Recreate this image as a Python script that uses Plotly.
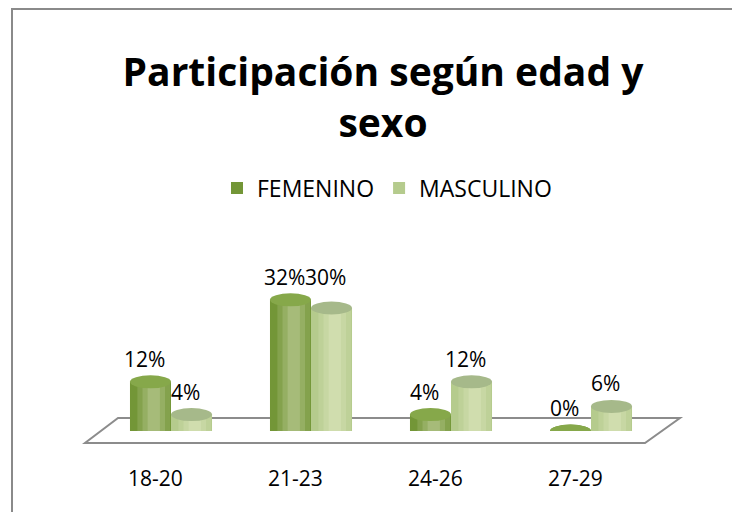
import plotly.graph_objects as go

categories = ["18-20", "21-23", "24-26", "27-29"]
femenino = [12, 32, 4, 0]
masculino = [4, 30, 12, 6]
series_names = ["FEMENINO", "MASCULINO"]

W, H = 740, 512
OFF = 8  # page body margin in the screenshot
ML, MR, MT, MB = 93, 87, 259, 89
PW, PH = W - ML - MR, H - MT - MB

def px(x):
    return (x - OFF - ML) / PW

def py(y):
    return (H - MB - (y - OFF)) / PH

FONT = "'Open Sans', Lato, sans-serif"
col_f, col_m = "#739637", "#B5CB8D"
top_f, top_m = "#86A84A", "#A6B98A"
bw = 0.293

fig = go.Figure()
for name, vals, col, off in [(series_names[0], femenino, col_f, -bw),
                             (series_names[1], masculino, col_m, 0)]:
    fig.add_trace(go.Bar(x=categories, y=vals, name=name, width=bw, offset=off,
                         marker=dict(color=col, line=dict(width=0))))
    # cylinder shading (stacked translucent bands)
    for frac, a in [(0.8, 0.12), (0.55, 0.14), (0.3, 0.16)]:
        fig.add_trace(go.Bar(x=categories, y=vals, width=bw * frac,
                             offset=off + bw * 0.58 - bw * frac / 2,
                             marker=dict(color=f"rgba(255,255,235,{a})", line=dict(width=0)),
                             showlegend=False, hoverinfo="skip"))

# cylinder ends (computed from data)
for vals, col, topc, off in [(femenino, col_f, top_f, -bw / 2), (masculino, col_m, top_m, bw / 2)]:
    for i, v in enumerate(vals):
        fig.add_shape(type="circle", xref="x", yref="y", xsizemode="pixel", ysizemode="pixel",
                      xanchor=i + off, yanchor=0, x0=-20.5, x1=20.5, y0=-6.5, y1=6.5,
                      fillcolor=col, line=dict(width=0), layer="below")
        fig.add_shape(type="circle", xref="x", yref="y", xsizemode="pixel", ysizemode="pixel",
                      xanchor=i + off, yanchor=v, x0=-20.5, x1=20.5, y0=-6.5, y1=6.5,
                      fillcolor=topc, line=dict(width=0), layer="above")

# data labels
for idx, (vals, off) in enumerate([(femenino, -bw / 2), (masculino, bw / 2)]):
    other = masculino if idx == 0 else femenino
    for i, v in enumerate(vals):
        yv = max(v, other[i]) if abs(v - other[i]) < 3 else v
        fig.add_annotation(x=i + off, y=yv, xref="x", yref="y", text=f"{v}%", showarrow=False,
                           xshift=-6, yshift=23, font=dict(family=FONT, size=21, color="#000"))

# category labels
for i, c in enumerate(categories):
    fig.add_annotation(x=i, y=0, xref="x", yref="y", text=c, showarrow=False,
                       xshift=-16, yshift=-47, font=dict(family=FONT, size=21, color="#000"))

# floor
floor = [(85, 443), (645, 443), (680, 418), (118, 418)]
path = "M " + " L ".join(f"{px(a):.4f},{py(b):.4f}" for a, b in floor) + " Z"
fig.add_shape(type="path", xref="paper", yref="paper", path=path,
              line=dict(color="#8C8C8C", width=2), fillcolor="rgba(0,0,0,0)", layer="below")

# chart border
fig.add_shape(type="rect", xref="paper", yref="paper", x0=px(12), x1=px(780), y0=py(560), y1=py(9),
              line=dict(color="#8A8A8A", width=2), fillcolor="rgba(0,0,0,0)", layer="below")

fig.update_layout(
    width=W, height=H, margin=dict(l=ML, r=MR, t=MT, b=MB),
    paper_bgcolor="white", plot_bgcolor="rgba(0,0,0,0)",
    barmode="overlay",
    title=dict(text="<b>Participación según edad y<br>sexo</b>", x=(383 - OFF) / W, xanchor="center",
               y=1 - (86 - OFF) / H, yanchor="middle", font=dict(family=FONT, size=39, color="#000")),
    legend=dict(orientation="h", x=px(387), xanchor="center", y=py(188), yanchor="middle",
                font=dict(family=FONT, size=23, color="#000"), itemsizing="constant"),
    xaxis=dict(type="category", range=[-0.5, 3.5], showticklabels=False, showgrid=False,
               zeroline=False, showline=False),
    yaxis=dict(range=[0, 40], visible=False),
    showlegend=True,
)
fig.write_html("out.html")
